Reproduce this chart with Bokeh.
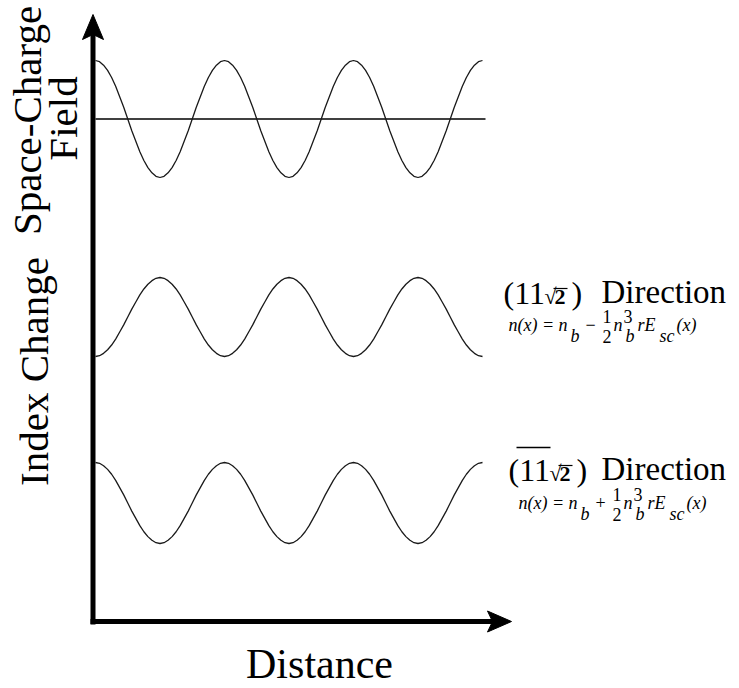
import math
from bokeh.plotting import figure
from bokeh.models import Range1d, Label
from bokeh.embed import file_html
from bokeh.resources import INLINE

W, H = 739, 688
SERIF = "Liberation Serif"

# One period of the normalised space-charge field, 32 samples per period
profile = [1.00, 0.98, 0.92, 0.83, 0.71, 0.56, 0.38, 0.20,
           0.00, -0.20, -0.38, -0.56, -0.71, -0.83, -0.92, -0.98,
           -1.00, -0.98, -0.92, -0.83, -0.71, -0.56, -0.38, -0.20,
           0.00, 0.20, 0.38, 0.56, 0.71, 0.83, 0.92, 0.98]
n_periods = 3
field = profile * n_periods + [profile[0]]
distance = [i / len(profile) for i in range(len(field))]      # in grating periods

# n(x) = n_b -/+ 1/2 n_b^3 r E_sc(x)
index_112 = [-v for v in field]
index_112bar = [v for v in field]

# ---- layout -------------------------------------------------------------
X0, PX = 95.0, 129.0          # left end of the traces, pixels per period
BASELINE_SHIFT = 0.4          # svg text sits this many em below the anchor


def xd(px):
    return (px - X0) / PX


def band(top_px, bottom_px):
    """y range placing +1 at top_px and -1 at bottom_px (pixels from top)."""
    span = 2.0 * H / (bottom_px - top_px)
    end = 1.0 + top_px * span / H
    return Range1d(start=end - span, end=end)


p = figure(width=W, height=H, x_range=Range1d(xd(0), xd(W)), y_range=Range1d(H, 0),
           x_axis_type=None, y_axis_type=None, toolbar_location=None,
           output_backend="svg", min_border=0, outline_line_color=None,
           background_fill_color="white", border_fill_color="white")

p.extra_y_ranges = {
    "field": band(60, 177),
    "idx112": band(277, 356),
    "idx112bar": band(462, 543),
}

# traces
p.line([distance[0], xd(485)], [0, 0], y_range_name="field",
       line_color="black", line_width=1.5)
for name, vals in (("field", field), ("idx112", index_112), ("idx112bar", index_112bar)):
    p.line(distance, vals, y_range_name=name, line_color="#1a1a1a", line_width=1.3)

# axes with arrowheads
p.line([xd(92.5), xd(92.5)], [624, 32], line_color="black", line_width=5, line_cap="butt")
p.line([xd(90), xd(494)], [621, 621], line_color="black", line_width=5, line_cap="butt")
p.patch([xd(92.5), xd(103), xd(92.5), xd(82)], [14, 39, 34, 39],
        fill_color="black", line_color="black", line_width=1)
p.patch([xd(511), xd(487), xd(492), xd(487)], [621, 610.5, 621, 631.5],
        fill_color="black", line_color="black", line_width=1)


def label(text, x, y, size, style="normal", angle=0.0, align="left"):
    shift = BASELINE_SHIFT * size
    if angle:
        x -= shift
    else:
        y -= shift
    p.add_layout(Label(x=x, y=y, x_units="screen", text=text, text_font=SERIF,
                       text_font_size=f"{size}px", text_font_style=style,
                       text_color="black", angle=angle, text_align=align,
                       text_baseline="alphabetic"))


up = math.pi / 2
label("Space-Charge", 43, 120, 41, angle=up, align="center")
label("Field", 79, 118, 41, angle=up, align="center")
label("Index Change", 50, 371, 41, angle=up, align="center")
label("Distance", 319, 680, 42, align="center")


def direction(x0, base, bar_over_ones):
    label("(11", x0, base, 32)
    if bar_over_ones:
        p.line([xd(x0 + 8), xd(x0 + 42)], [base - 35, base - 35], line_color="black", line_width=1.5)
    label("\u221a", x0 + 41, base, 22)
    label("2", x0 + 51, base, 22, style="bold")
    p.line([xd(x0 + 50), xd(x0 + 64)], [base - 17, base - 17], line_color="black", line_width=1.2)
    label(")", x0 + 68, base, 32)
    label("Direction", 601, base, 33)


def formula(x0, base, sign):
    label("n(x) = n", x0, base, 18, style="italic")
    label("b", x0 + 62, base + 11, 18, style="italic")
    label(sign, x0 + 77, base - 1, 18)
    label("1", x0 + 94, base - 9, 18)
    label("2", x0 + 94, base + 11, 18)
    label("n", x0 + 105, base, 18, style="italic")
    label("3", x0 + 115, base - 9, 18)
    label("b", x0 + 117, base + 11, 18, style="italic")
    label("rE", x0 + 129, base, 18, style="italic")
    label("sc", x0 + 151, base + 11, 18, style="italic")
    label("(x)", x0 + 168, base, 18, style="italic")


direction(503, 305, False)
formula(508, 332, "\u2212")
direction(508, 482, True)
formula(518, 510, "+")

open("out.html", "w").write(file_html(p, INLINE))
